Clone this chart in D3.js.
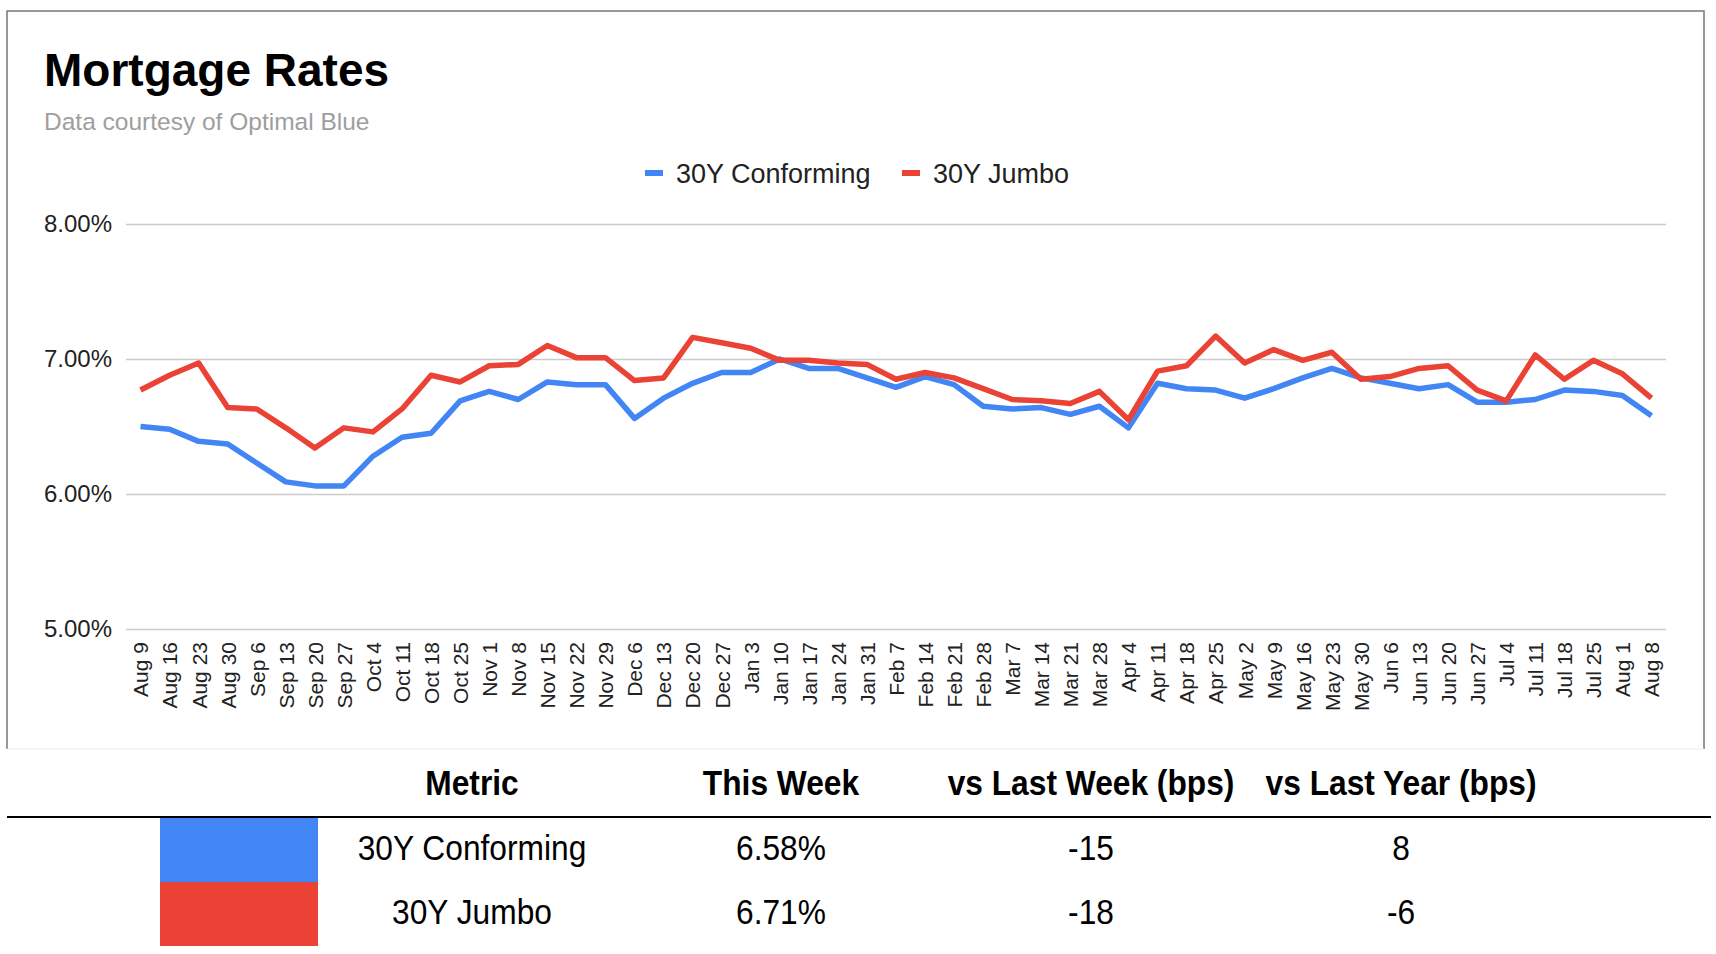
<!DOCTYPE html>
<html>
<head>
<meta charset="utf-8">
<script src="https://cdn.jsdelivr.net/npm/d3@7"></script>
<style>
  body { margin: 0; background: #fff; }
  svg { display: block; font-family: "Liberation Sans", Arial, sans-serif; }
</style>
</head>
<body>
<svg width="1716" height="954"></svg>
<script>
/* data */
var weeks = ["Aug 9","Aug 16","Aug 23","Aug 30","Sep 6","Sep 13","Sep 20","Sep 27",
  "Oct 4","Oct 11","Oct 18","Oct 25","Nov 1","Nov 8","Nov 15","Nov 22","Nov 29",
  "Dec 6","Dec 13","Dec 20","Dec 27","Jan 3","Jan 10","Jan 17","Jan 24","Jan 31",
  "Feb 7","Feb 14","Feb 21","Feb 28","Mar 7","Mar 14","Mar 21","Mar 28",
  "Apr 4","Apr 11","Apr 18","Apr 25","May 2","May 9","May 16","May 23","May 30",
  "Jun 6","Jun 13","Jun 20","Jun 27","Jul 4","Jul 11","Jul 18","Jul 25","Aug 1","Aug 8"];

var conforming = [6.50,6.48,6.39,6.37,6.23,6.09,6.06,6.06,6.28,6.42,6.45,6.69,6.76,6.70,
  6.83,6.81,6.81,6.56,6.71,6.82,6.90,6.90,7.00,6.93,6.93,6.86,6.79,
  6.87,6.81,6.65,6.63,6.64,6.59,6.65,6.49,6.82,6.78,6.77,6.71,6.78,
  6.86,6.93,6.86,6.82,6.78,6.81,6.68,6.68,6.70,6.77,6.76,6.73,6.58];

var jumbo = [6.77,6.88,6.97,6.64,6.63,6.49,6.34,6.49,6.46,6.63,6.88,6.83,6.95,6.96,
  7.10,7.01,7.01,6.84,6.86,7.16,7.12,7.08,6.99,6.99,6.97,6.96,6.85,
  6.90,6.86,6.78,6.70,6.69,6.67,6.76,6.55,6.91,6.95,7.17,6.97,7.07,
  6.99,7.05,6.85,6.87,6.93,6.95,6.77,6.69,7.03,6.85,6.99,6.89,6.71];

var yTicks = [5, 6, 7, 8];

var seriesNames = ["30Y Conforming", "30Y Jumbo"];
var seriesColors = ["#4285f4", "#ea4335"];

var tableHeaders = ["Metric", "This Week", "vs Last Week (bps)", "vs Last Year (bps)"];
var thisWeek = ["6.58%", "6.71%"];
var vsLastWeek = ["-15", "-18"];
var vsLastYear = ["8", "-6"];

var svg = d3.select("svg");

// frame round the chart
svg.append("path")
  .attr("d", "M7,749 V11 H1704 V749")
  .attr("fill", "none")
  .attr("stroke", "#777")
  .attr("stroke-width", 1.5);
svg.append("line")
  .attr("x1", 7).attr("x2", 1704).attr("y1", 749).attr("y2", 749)
  .attr("stroke", "#eee");

svg.append("text")
  .attr("x", 44).attr("y", 86)
  .attr("font-size", 46).attr("font-weight", "bold")
  .text("Mortgage Rates");

svg.append("text")
  .attr("x", 44).attr("y", 130)
  .attr("font-size", 24.5).attr("fill", "#9e9e9e")
  .text("Data courtesy of Optimal Blue");

// scales
var x = d3.scalePoint()
  .domain(weeks)
  .range([126, 1666])
  .padding(0.5);

var y = d3.scaleLinear()
  .domain([5, 8])
  .range([629, 224]);

// y gridlines + labels
var yAxis = svg.append("g")
  .attr("transform", "translate(126,0)")
  .call(d3.axisLeft(y).tickValues(yTicks).tickSize(-1540).tickPadding(14)
    .tickFormat(function(d) { return d3.format(".2f")(d) + "%"; }));
yAxis.select(".domain").remove();
yAxis.selectAll(".tick line").attr("stroke", "#cccccc").attr("stroke-width", 1.5);
yAxis.selectAll(".tick text")
  .attr("font-size", 24).attr("fill", "#222")
  .attr("font-family", "Liberation Sans, Arial, sans-serif");

// x labels
var xAxis = svg.append("g")
  .attr("transform", "translate(0,629)")
  .call(d3.axisBottom(x).tickSize(0));
xAxis.select(".domain").remove();
xAxis.selectAll(".tick text")
  .attr("font-size", 21).attr("fill", "#222")
  .attr("font-family", "Liberation Sans, Arial, sans-serif")
  .attr("text-anchor", "end")
  .attr("transform", "rotate(-90)")
  .attr("x", -13).attr("y", 0).attr("dy", "0.35em");

// lines
var line = d3.line()
  .x(function(d, i) { return x(weeks[i]); })
  .y(function(d) { return y(d); });

[conforming, jumbo].forEach(function(s, k) {
  svg.append("path")
    .attr("d", line(s))
    .attr("fill", "none")
    .attr("stroke", seriesColors[k])
    .attr("stroke-width", 5.5)
    .attr("stroke-linejoin", "round");
});

// legend
var legendX = [645, 902];
seriesNames.forEach(function(n, k) {
  svg.append("line")
    .attr("x1", legendX[k]).attr("x2", legendX[k] + 18)
    .attr("y1", 173).attr("y2", 173)
    .attr("stroke", seriesColors[k]).attr("stroke-width", 6);
  svg.append("text")
    .attr("x", legendX[k] + 31).attr("y", 182.5)
    .attr("font-size", 27).attr("fill", "#222")
    .text(n);
});

// table under the chart (text a bit narrow, like the original)
var colX = [472, 781, 1091, 1401];
svg.selectAll(".th")
  .data(tableHeaders)
  .enter().append("text")
  .attr("transform", function(d, i) { return "translate(" + colX[i] + ",795) scale(0.92,1)"; })
  .attr("text-anchor", "middle")
  .attr("font-size", 34.5).attr("font-weight", "bold")
  .text(function(d) { return d; });

svg.append("line")
  .attr("x1", 7).attr("x2", 1711).attr("y1", 817).attr("y2", 817)
  .attr("stroke", "#000").attr("stroke-width", 2);

var rowY = [818, 882];
var rowH = 64;
seriesNames.forEach(function(n, k) {
  svg.append("rect")
    .attr("x", 160).attr("y", rowY[k])
    .attr("width", 158).attr("height", rowH)
    .attr("fill", seriesColors[k]);
  var cells = [n, thisWeek[k], vsLastWeek[k], vsLastYear[k]];
  cells.forEach(function(c, j) {
    svg.append("text")
      .attr("transform", "translate(" + colX[j] + "," + (rowY[k] + rowH / 2 + 10) + ") scale(0.92,1)")
      .attr("text-anchor", "middle")
      .attr("font-size", 34.5)
      .text(c);
  });
});
</script>
</body>
</html>
